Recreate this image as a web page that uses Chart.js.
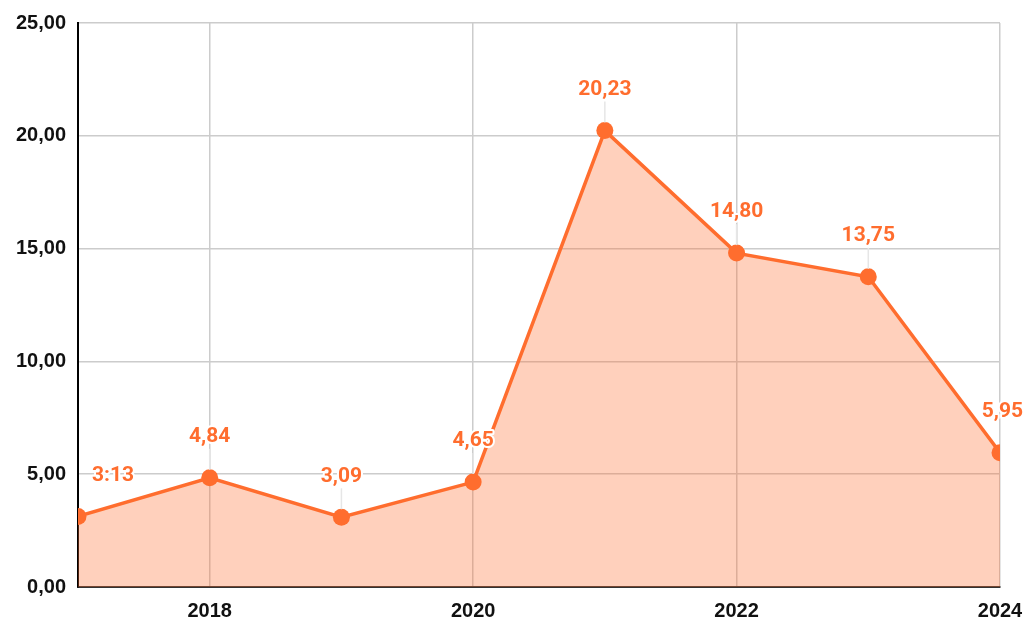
<!DOCTYPE html>
<html lang="en">
  <head>
    <meta charset="UTF-8" />
    <title>Chart</title>
    <script src="https://cdn.jsdelivr.net/npm/chart.js"></script>
    <style>
      html, body { margin: 0; padding: 0; background: #fff; }
      #wrap { width: 1027px; height: 622px; }
    </style>
  </head>
  <body>
    <div id="wrap"><canvas id="chart"></canvas></div>
    <script>
      // chart data
      const years = ["2017", "2018", "2019", "2020", "2021", "2022", "2023", "2024"];
      const values = [3.13, 4.84, 3.09, 4.65, 20.23, 14.8, 13.75, 5.95];
      const pointLabels = ["3:13", "4,84", "3,09", "4,65", "20,23", "14,80", "13,75", "5,95"];
      const yTicks = [0, 5, 10, 15, 20, 25];

      const orange = "#ff6d2e";
      const peach = "rgba(255, 109, 46, 0.32)";

      // draws the value labels with a white halo
      const valueLabels = {
        id: "valueLabels",
        afterDatasetsDraw(chart) {
          const ctx = chart.ctx;
          const meta = chart.getDatasetMeta(0);
          ctx.save();
          ctx.font = "bold 21px Roboto";
          ctx.textBaseline = "middle";
          meta.data.forEach((pt, i) => {
            let x = pt.x;
            let y = pt.y - 41;
            let align = "center";
            if (i === 0) {
              x = pt.x + 14;
              align = "left";
            } else if (i === meta.data.length - 1) {
              x = pt.x + 23;
              align = "right";
            } else {
              // faint leader line
              ctx.strokeStyle = "#e6e6e6";
              ctx.lineWidth = 1.5;
              ctx.beginPath();
              ctx.moveTo(pt.x, y + 12);
              ctx.lineTo(pt.x, pt.y - 8);
              ctx.stroke();
            }
            ctx.textAlign = align;
            ctx.lineWidth = 4;
            ctx.strokeStyle = "#fff";
            ctx.lineJoin = "round";
            ctx.strokeText(pointLabels[i], x, y);
            ctx.fillStyle = orange;
            ctx.fillText(pointLabels[i], x, y);
          });
          ctx.restore();
        },
      };

      const tickFont = { family: "'Liberation Sans', Arial", weight: "bold", size: 20 };

      new Chart(document.getElementById("chart"), {
        type: "line",
        data: {
          labels: years,
          datasets: [
            {
              data: values,
              borderColor: orange,
              backgroundColor: peach,
              fill: "origin",
              borderWidth: 3.5,
              pointRadius: 8.5,
              pointBackgroundColor: orange,
              pointBorderWidth: 0,
              tension: 0,
              clip: 0,
            },
          ],
        },
        options: {
          responsive: true,
          maintainAspectRatio: false,
          animation: false,
          layout: { padding: { top: 23, right: 27, left: 0, bottom: 0 } },
          plugins: { legend: { display: false }, tooltip: { enabled: false } },
          scales: {
            x: {
              offset: false,
              grid: {
                color: (c) => (c.index % 2 === 1 ? "#cccccc" : "rgba(0,0,0,0)"),
                lineWidth: 1.5,
                drawTicks: false,
              },
              border: { color: "#333", width: 2 },
              ticks: {
                autoSkip: false,
                maxRotation: 0,
                padding: 12,
                color: "#111",
                font: tickFont,
                callback: (v, i) => (i % 2 === 1 ? years[i] : ""),
              },
              afterFit: (s) => {
                s.height = 35;
                s.paddingRight = 0;
                s.paddingLeft = 0;
              },
            },
            y: {
              min: yTicks[0],
              max: yTicks[yTicks.length - 1],
              afterBuildTicks: (s) => { s.ticks = yTicks.map((v) => ({ value: v })); },
              grid: { color: "#cccccc", lineWidth: 1.5, drawTicks: false },
              border: { color: "#000", width: 2 },
              ticks: {
                padding: 12,
                color: "#111",
                font: tickFont,
                callback: (v) => v.toFixed(2).replace(".", ","),
              },
              afterFit: (s) => {
                s.width = 78;
                s.paddingTop = 0;
                s.paddingBottom = 0;
              },
            },
          },
        },
        plugins: [valueLabels],
      });
    </script>
  </body>
</html>
